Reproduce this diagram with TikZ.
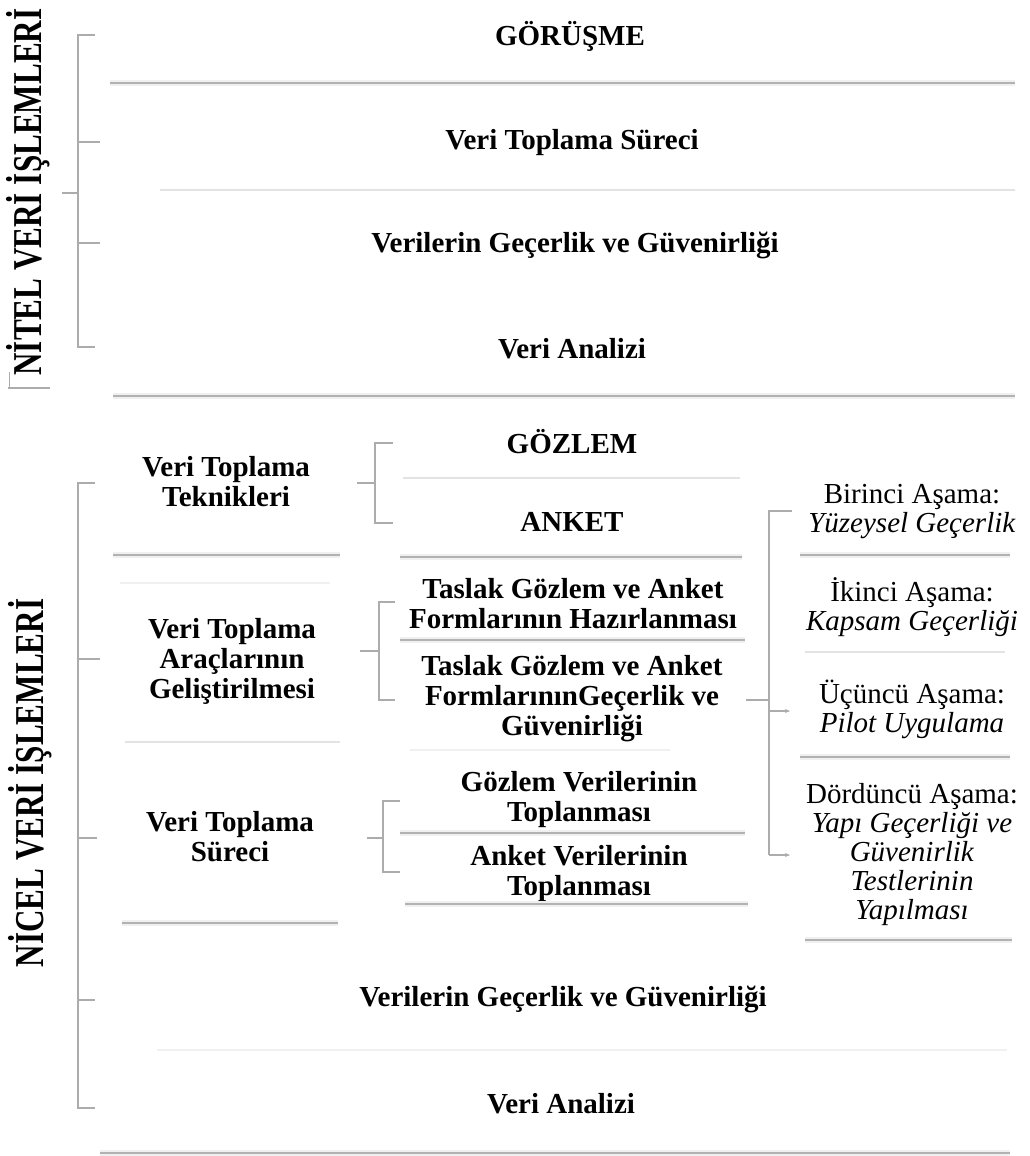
\documentclass[tikz,border=0pt]{standalone}
\usepackage{fontspec}
\setmainfont{Liberation Serif}
\usetikzlibrary{arrows.meta}
\tikzset{
  rule/.style={draw=gray!60, line width=2pt, preaction={draw=gray!12, line width=6pt}},
  softrule/.style={draw=gray!22, line width=2pt},
  faintrule/.style={draw=gray!12, line width=2pt},
  brk/.style={draw=gray!65, line width=1.4pt},
  btxt/.style={font=\fontsize{29}{30}\selectfont\bfseries, align=center, inner sep=0pt},
  rtxt/.style={font=\fontsize{29}{29}\selectfont, align=center, inner sep=0pt},
  side/.style={font=\fontsize{41}{41}\selectfont\bfseries, rotate=90, inner sep=0pt},
  tip/.style={-{Stealth[length=5pt,width=4pt]}}
}
\begin{document}
\begin{tikzpicture}[x=1pt,y=-1pt]
\useasboundingbox[fill=white] (0,0) rectangle (1029,1156);

% ---------- side titles ----------
\node[side] (nitel) at (28,192) {\scalebox{0.76}[1]{NİTEL VERİ İŞLEMLERİ}};
\node[side] (nicel) at (30,783) {\scalebox{0.76}[1]{NİCEL VERİ İŞLEMLERİ}};

% ---------- top section texts ----------
\node[btxt] (gor)  at (570,36)  {GÖRÜŞME};
\node[btxt] (vts1) at (572,143) {Veri Toplama Süreci};
\node[btxt] (vgg1) at (575,245) {Verilerin Geçerlik ve Güvenirliği};
\node[btxt] (va1)  at (572,349) {Veri Analizi};

% ---------- top section rules ----------
\draw[rule] (110,83) -- (1015,83);
\draw[softrule] (160,190) -- (1015,190);
\draw[rule] (113,396) -- (1015,396);
\draw[brk] (8,388) -- (50,388);
\draw[brk, line width=1pt] (9,372) -- (9,388);

% ---------- top bracket ----------
\coordinate (tb1) at (78,35);
\coordinate (tb4) at (78,347);
\draw[brk] (95,35) -- (tb1) -- (tb4) -- (95,347);
\draw[brk] (78,142) -- (100,142);
\draw[brk] (78,243) -- (100,243);
\draw[brk] (62,193) -- (78,193);

% ---------- bottom: left column ----------
\node[btxt] (vtt)  at (226,482) {Veri Toplama\\Teknikleri};
\node[btxt] (vtag) at (232,661) {Veri Toplama\\Araçlarının\\Geliştirilmesi};
\node[btxt] (vts2) at (230,837) {Veri Toplama\\Süreci};
\draw[rule] (113,555) -- (340,555);
\draw[faintrule] (120,583) -- (330,583);
\draw[softrule] (125,742) -- (340,742);
\draw[rule] (122,923) -- (338,923);

% ---------- bottom: middle column ----------
\node[btxt] (gozlem) at (572,442) {GÖZLEM};
\node[btxt] (anket)  at (572,522) {ANKET};
\node[btxt] (tg1) at (573,604) {Taslak Gözlem ve Anket\\Formlarının Hazırlanması};
\node[btxt] (tg2) at (572,699) {Taslak Gözlem ve Anket\\FormlarınınGeçerlik ve\\Güvenirliği};
\node[btxt] (gvt) at (579,800) {Gözlem Verilerinin\\Toplanması};
\node[btxt] (avt) at (579,874) {Anket Verilerinin\\Toplanması};
\draw[softrule] (403,478) -- (740,478);
\draw[rule] (400,557) -- (742,557);
\draw[rule] (400,640) -- (745,640);
\draw[faintrule] (410,750) -- (670,750);
\draw[rule] (400,833) -- (745,833);
\draw[rule] (405,904) -- (748,904);

% ---------- bottom: right column ----------
\node[rtxt] (a1) at (912,512) {Birinci Aşama:\\\textit{Yüzeysel Geçerlik}};
\node[rtxt] (a2) at (912,607) {İkinci Aşama:\\\textit{Kapsam Geçerliği}};
\node[rtxt] (a3) at (912,709) {Üçüncü Aşama:\\\textit{Pilot Uygulama}};
\node[rtxt] (a4) at (912,855) {Dördüncü Aşama:\\\textit{Yapı Geçerliği ve}\\\textit{Güvenirlik}\\\textit{Testlerinin}\\\textit{Yapılması}};
\draw[rule] (800,555) -- (1010,555);
\draw[softrule] (805,652) -- (1005,652);
\draw[rule] (800,757) -- (1010,757);
\draw[rule] (805,940) -- (1012,940);

% ---------- bottom: full-width rows ----------
\node[btxt] (vgg2) at (563,999) {Verilerin Geçerlik ve Güvenirliği};
\node[btxt] (va2)  at (561,1104) {Veri Analizi};
\draw[faintrule] (157,1050) -- (1007,1050);
\draw[rule] (100,1153) -- (1010,1153);

% ---------- bottom main bracket ----------
\coordinate (bb1) at (78,483);
\coordinate (bb5) at (78,1108);
\draw[brk] (95,483) -- (bb1) -- (bb5) -- (95,1108);
\draw[brk, line width=2.6pt] (78,659) -- (78,780);
\draw[brk] (78,659) -- (100,659);
\draw[brk] (78,838) -- (97,838);
\draw[brk] (78,1000) -- (95,1000);

% ---------- small brackets ----------
\draw[brk] (393,443) -- (375,443) -- (375,523) -- (393,523);
\draw[brk] (357,483) -- (375,483);
\draw[brk] (395,602) -- (379,602) -- (379,700) -- (395,700);
\draw[brk] (360,651) -- (379,651);
\draw[brk] (400,801) -- (383,801) -- (383,872) -- (400,872);
\draw[brk] (367,838) -- (383,838);

% ---------- right bracket ----------
\coordinate (rb1) at (769,511);
\coordinate (rb2) at (769,855);
\draw[brk] (792,511) -- (rb1) -- (rb2);
\draw[brk] (746,700) -- (769,700);
\draw[brk, tip] (769,711) -- (790,711);
\draw[brk, tip] (rb2) -- (790,855);
\end{tikzpicture}
\end{document}
